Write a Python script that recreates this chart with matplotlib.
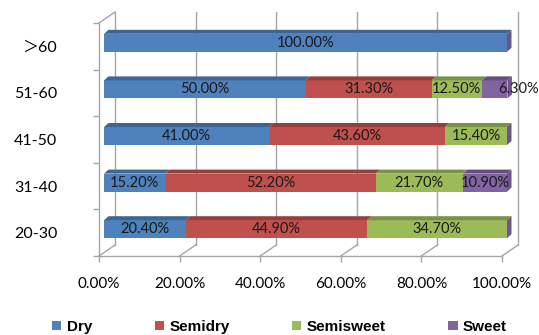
import matplotlib
matplotlib.use("Agg")
import matplotlib.pyplot as plt
import matplotlib.colors as mcolors
from matplotlib.patches import Polygon, Patch
from matplotlib.transforms import offset_copy

# === DATI ===
ages = ["20-30", "31-40", "41-50", "51-60", "\uff1e60"]
dry = [20.4, 15.2, 41.0, 50.0, 100.0]
semidry = [44.9, 52.2, 43.6, 31.3, 0.0]
semisweet = [34.7, 21.7, 15.4, 12.5, 0.0]
sweet = [0.0, 10.9, 0.0, 6.3, 0.0]
series_names = ["Dry", "Semidry", "Semisweet", "Sweet"]
ticks_x = [0, 20, 40, 60, 80, 100]

colors = ["#4F81BD", "#C0504D", "#9BBB59", "#8064A2"]
grid_col = "#A6A6A6"


def darker(c, f=0.78):
    r, g, b = mcolors.to_rgb(c)
    return (r * f, g * f, b * f)


fig = plt.figure(figsize=(5.39, 3.35), dpi=100)
ax = fig.add_axes([99 / 539, 1 - 256 / 335, 403 / 539, 233 / 335])
ax.set_xlim(0, 100)
ax.set_ylim(-0.5, len(ages) - 0.5)

# pixel -> dati
ux = 100 / 403.0
uy = len(ages) / 233.0

# === PARETE DI FONDO (griglia 3D) ===
wdx, wdy = 16 * ux, 11 * uy
for v in ticks_x:
    ax.plot([v + wdx, v + wdx], [-0.5 + wdy, len(ages) - 0.5 + wdy],
            color=grid_col, lw=1, zorder=0, clip_on=False)
    ax.plot([v, v + wdx], [-0.5, -0.5 + wdy], color=grid_col, lw=1,
            zorder=0, clip_on=False)
ax.plot([0, wdx], [len(ages) - 0.5, len(ages) - 0.5 + wdy], color=grid_col,
        lw=1, zorder=0, clip_on=False)

# === BARRE ===
bar_tr = offset_copy(ax.transData, fig=fig, x=5, y=3.5, units="dots")
bh = 18 * uy
tdx, tdy = 4.5 * ux, 4 * uy
data = [dry, semidry, semisweet, sweet]
ypos = list(range(len(ages)))
left = [0.0] * len(ages)
segments = []
for s, vals in enumerate(data):
    ax.barh(ypos, vals, left=left, height=bh, color=colors[s],
            transform=bar_tr, zorder=2, linewidth=0, clip_on=False)
    for i, v in enumerate(vals):
        x0, x1 = left[i], left[i] + v
        yt = ypos[i] + bh / 2
        if v > 0:
            top = Polygon([(x0, yt), (x1, yt), (x1 + tdx, yt + tdy), (x0 + tdx, yt + tdy)],
                          closed=True, facecolor=darker(colors[s]), edgecolor="none",
                          transform=bar_tr, zorder=2, clip_on=False)
            ax.add_patch(top)
            segments.append((i, (x0 + x1) / 2, v))
    left = [l + v for l, v in zip(left, vals)]

# faccia laterale (sempre del colore dell'ultima serie)
for i in ypos:
    yb, yt = ypos[i] - bh / 2, ypos[i] + bh / 2
    side = Polygon([(left[i], yb), (left[i], yt), (left[i] + tdx, yt + tdy),
                    (left[i] + tdx, yb + tdy)], closed=True,
                   facecolor=darker(colors[3], 0.85), edgecolor="none",
                   transform=bar_tr, zorder=2, clip_on=False)
    ax.add_patch(side)

# === ETICHETTE ===
labels_by_row = {}
for i, xc, v in segments:
    t = ax.text(xc, ypos[i], f"{v:.2f}%", ha="center", va="center",
                fontsize=10.5, family="Lato", color="#1a1a1a",
                transform=bar_tr, zorder=3, clip_on=False)
    labels_by_row.setdefault(i, []).append(t)

fig.canvas.draw()
r = fig.canvas.get_renderer()
for i, texts in labels_by_row.items():
    prev = None
    for t in texts:
        bb = t.get_window_extent(r)
        if prev is not None and bb.x0 < prev.x1:
            shift = prev.x1 + 17 - bb.x0
            x, y = t.get_position()
            t.set_position((x + shift * ux, y))
            bb = t.get_window_extent(r)
        prev = bb

# === ASSI ===
for sp in ["top", "right"]:
    ax.spines[sp].set_visible(False)
for sp in ["left", "bottom"]:
    ax.spines[sp].set_color(grid_col)
    ax.spines[sp].set_linewidth(1)

ax.set_xticks(ticks_x)
ax.set_xticklabels([f"{v:.2f}%" for v in ticks_x], family="Lato", fontsize=11)
ax.set_yticks([y - 0.5 for y in range(len(ages) + 1)])
ax.set_yticklabels([])
ax.set_yticks(ypos, minor=True)
ax.set_yticklabels(ages, minor=True, family=["Lato", "Noto Sans CJK SC"], fontsize=11.5)
ax.tick_params(axis="both", which="major", length=4, color=grid_col, width=1)
ax.tick_params(axis="x", pad=11)
ax.tick_params(axis="y", which="minor", length=0, pad=30)
ax.set_facecolor("none")

# === LEGENDA ===
handles = [Patch(facecolor=c, edgecolor="none") for c in colors]
fig.legend(handles, series_names, loc="center", ncol=4,
           bbox_to_anchor=(279.5 / 539, 1 - 327 / 335), frameon=False,
           prop={"family": "Liberation Sans", "weight": "bold", "size": 11},
           handlelength=0.6, handleheight=0.6, handletextpad=0.35,
           columnspacing=4.1, borderpad=0, borderaxespad=0)

fig.savefig("out.png", dpi=100)
